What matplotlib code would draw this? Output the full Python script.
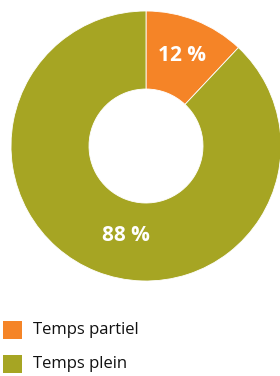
import matplotlib
matplotlib.use("Agg")
import matplotlib.pyplot as plt
from matplotlib.patches import Rectangle

labels = ["Temps partiel", "Temps plein"]
values = [12, 88]
colors = ["#F58427", "#A6A523"]

plt.rcParams['font.family'] = ['Open Sans', 'DejaVu Sans']

W, H = 280, 376
fig = plt.figure(figsize=(W / 100, H / 100), dpi=100)

# donut, outer radius 135 px centred at (146, 146) from top
ax = fig.add_axes([11 / W, (H - 281) / H, 270 / W, 270 / H])
wedges, _, pcts = ax.pie(values, colors=colors, startangle=90, counterclock=False,
                         radius=1, autopct=lambda p: f"{p:.0f} %", pctdistance=0.72,
                         wedgeprops=dict(width=1 - 57 / 135, edgecolor="white", linewidth=0.6),
                         textprops=dict(color="white", fontsize=15, fontweight="bold"))
pcts[1].set_position((-0.15, -0.66))
ax.set_xlim(-1, 1)
ax.set_ylim(-1, 1)
ax.set_aspect("equal")
ax.axis("off")

# legend
for i, (lab, col) in enumerate(zip(labels, colors)):
    top = 321 + i * 34
    fig.patches.append(Rectangle((3 / W, (H - top - 18) / H), 19 / W, 18 / H,
                                 transform=fig.transFigure, facecolor=col, edgecolor="none"))
    fig.text(33 / W, (H - top - 9) / H, lab, fontsize=12, color="#111111",
             va="center", ha="left")

fig.savefig("out.png", dpi=100)
